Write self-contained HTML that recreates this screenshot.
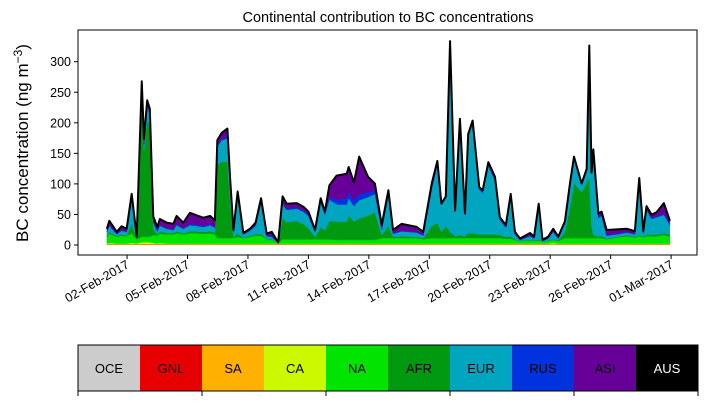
<!DOCTYPE html>
<html><head><meta charset="utf-8">
<style>
html,body{margin:0;padding:0;background:#fff;}
svg{display:block;font-family:"Liberation Sans","DejaVu Sans",sans-serif;}
</style></head>
<body>
<svg id="chart" width="707" height="402" viewBox="0 0 707 402">
<text x="388" y="22" text-anchor="middle" font-size="14.5">Continental contribution to BC concentrations</text>
<text transform="translate(28,143) rotate(-90)" text-anchor="middle" font-size="17">BC concentration (ng m<tspan dy="-6" font-size="12">−3</tspan><tspan dy="6">)</tspan></text>
<g id="plot"></g>
<g id="legend"></g>
</svg>
<script>
const times=[0,0.12,0.49,0.73,0.98,1.23,1.48,1.73,1.84,2.0,2.13,2.3,2.5,2.63,2.97,3.3,3.46,3.79,4.12,4.45,4.78,5.12,5.36,5.48,5.7,5.98,6.11,6.28,6.49,6.77,7.1,7.38,7.65,7.93,8.18,8.5,8.72,8.92,9.42,9.75,10.0,10.33,10.61,10.82,11.04,11.4,11.9,12.0,12.26,12.52,12.96,13.3,13.64,13.97,14.2,14.63,15.37,15.7,16.12,16.4,16.6,16.82,17.03,17.28,17.52,17.77,17.93,18.15,18.48,18.65,18.93,19.26,19.5,19.8,20.04,20.25,20.5,21.0,21.2,21.43,21.62,21.9,22.15,22.4,22.73,22.98,23.18,23.56,23.81,23.94,24.05,24.14,24.39,24.55,24.8,25.3,25.8,26.2,26.42,26.62,26.78,27.03,27.28,27.64,27.94];
const oce=[0.5,0.5,0.5,0.5,0.5,0.5,0.5,0.5,0.5,0.5,0.5,0.5,0.5,0.5,0.5,0.5,0.5,0.5,0.5,0.5,0.5,0.5,0.5,0.5,0.5,0.5,0.5,0.5,0.5,0.5,0.5,0.5,0.5,0.5,0.5,0.5,0.5,0.5,0.5,0.5,0.5,0.5,0.5,0.5,0.5,0.5,0.5,0.5,0.5,0.5,0.5,0.5,0.5,0.5,0.5,0.5,0.5,0.5,0.5,0.5,0.5,0.5,0.5,0.5,0.5,0.5,0.5,0.5,0.5,0.5,0.5,0.5,0.5,0.5,0.5,0.5,0.5,0.5,0.5,0.5,0.5,0.5,0.5,0.5,0.5,0.5,0.5,0.5,0.5,0.5,0.5,0.5,0.5,0.5,0.5,0.5,0.5,0.5,0.5,0.5,0.5,0.5,0.5,0.5,0.5];
const gnl=[0.3,0.3,0.3,0.3,0.3,0.3,0.3,0.3,0.3,0.3,0.3,0.3,0.3,0.3,0.3,0.3,0.3,0.3,0.3,0.3,0.3,0.3,0.3,0.3,0.3,0.3,0.3,0.3,0.3,0.3,0.3,0.3,0.3,0.3,0.3,0.3,0.3,0.3,0.3,0.3,0.3,0.3,0.3,0.3,0.3,0.3,0.3,0.3,0.3,0.3,0.3,0.3,0.3,0.3,0.3,0.3,0.3,0.3,0.3,0.3,0.3,0.3,0.3,0.3,0.3,0.3,0.3,0.3,0.3,0.3,0.3,0.3,0.3,0.3,0.3,0.3,0.3,0.3,0.3,0.3,0.3,0.3,0.3,0.3,0.3,0.3,0.3,0.3,0.3,0.3,0.3,0.3,0.3,0.3,0.3,0.3,0.3,0.3,0.3,0.3,0.3,0.3,0.3,0.3,0.3];
const sa=[0.5,0.5,0.5,0.5,0.5,0.5,0.5,0.8,0.8,0.8,0.8,0.5,0.5,0.5,0.5,0.5,0.5,0.5,0.5,0.5,0.5,0.5,0.5,0.5,0.5,0.5,0.5,0.5,0.5,0.5,0.5,0.5,0.5,0.5,0.5,0.5,0.5,0.5,0.5,0.5,0.5,0.5,0.5,0.5,0.5,0.5,0.5,0.5,0.5,0.5,0.5,0.5,0.5,0.5,0.5,0.5,0.5,0.5,0.5,0.5,0.5,0.5,0.5,0.5,0.5,0.5,0.5,0.5,0.5,0.5,0.5,0.5,0.5,0.5,0.5,0.5,0.5,0.5,0.5,0.5,0.5,0.5,0.5,0.5,0.5,0.5,0.5,0.5,0.5,0.5,0.5,0.5,0.5,0.5,0.5,0.5,0.5,0.5,0.5,0.5,0.5,0.5,0.5,0.5,0.5];
const ca=[1,2,1,1,1,2,1,3,3,3,3,2,1,2,1,1,1,1,1,1,1,1,1,1,1,1,1,1,1,1,1,1,1,1,1,1,1,1,1,1,1,1,1,1,1,1,1,1,1,1,1,1,1,1,1,1,1,1,1,1,1,1,1,1,1,1,1,1,1,1,1,1,1,1,1,1,1,1,1,1,1,1,2,1,1,1,1,1,1,1,1,1,1,1,1,1,1,1,1,1,1,1,1,1,1];
const na=[11,15,11,13,12,16,7,9,9,9,9,13,13,15,15,15,17,15,17,17,16,17,15,9,9,9,9,9,11,9,11,13,13,7,6,1,7,7,7,7,7,7,7,7,7,6,6,6,6,6,6,6,9,9,9,9,9,7,9,9,9,9,9,9,9,9,9,9,9,9,9,9,9,8,8,6,4,5,4,5,3,4,5,4,9,9,9,9,9,9,9,9,9,9,7,10,12,10,12,10,12,12,12,14,12];
const afr=[2,3,1,2,2,15,1,230,140,190,180,10,2,3,3,2,3,2,3,3,3,3,3,120,125,125,60,2,5,1,2,2,3,1,1,0,35,28,30,25,18,4,20,15,30,30,30,40,30,35,40,45,5,20,2,3,2,2,20,25,10,20,10,3,5,3,8,8,6,6,6,6,5,3,4,1,0,1,1,2,0,1,1,1,10,50,90,75,90,100,20,5,3,3,1,1,2,1,3,1,3,3,3,3,3];
const eur=[6,10,3,6,5,40,1,10,10,25,20,10,5,10,6,5,10,7,10,9,8,10,8,30,35,38,30,8,60,5,8,14,50,4,4,0,22,20,20,20,20,8,40,25,35,28,28,28,25,30,30,30,8,50,5,8,7,4,60,95,45,45,300,40,185,35,158,180,73,68,112,88,25,15,65,8,2,6,3,55,1,3,12,3,15,37,42,13,21,210,85,136,30,33,5,4,4,4,85,5,40,25,28,30,15];
const rus=[1,1,1,1,1,3,0,2,2,2,2,2,1,2,1,1,2,1,2,2,2,2,1,2,2,3,2,1,3,0,1,1,2,1,1,0,2,2,2,2,2,1,2,2,5,8,10,10,9,10,8,5,2,3,1,1,1,1,2,2,1,1,3,1,2,1,2,2,2,2,2,2,1,1,2,1,0,1,1,1,0,1,1,1,1,1,1,1,2,3,2,2,2,2,1,1,1,1,2,1,2,2,2,2,2];
const asi=[4,7,3,6,4,6,2,12,8,6,7,8,6,9,9,9,13,9,18,15,13,13,11,8,10,13,8,2,6,2,2,4,6,3,7,0.5,11,8,7,6,5,2,5,3,18,39,40,41,30,61,25,12,6,5,5,11,8,5,7,4,0,2,9,1,3,1,2,2,2,2,4,4,3,3,2,3,2,4,2,2,2,2,4,2,1,1,0,0,0,2,0,2,5,5,8,7,5,4,5,3,4,5,6,17,5];
const aus=[0.3,0.3,0.3,0.3,0.3,0.3,0.3,0.3,0.3,0.3,0.3,0.3,0.3,0.3,0.3,0.3,0.3,0.3,0.3,0.3,0.3,0.3,0.3,0.3,0.3,0.3,0.3,0.3,0.3,0.3,0.3,0.3,0.3,0.3,0.3,0.3,0.3,0.3,0.3,0.3,0.3,0.3,0.3,0.3,0.3,0.3,0.3,0.3,0.3,0.3,0.3,0.3,0.3,0.3,0.3,0.3,0.3,0.3,0.3,0.3,0.3,0.3,0.3,0.3,0.3,0.3,0.3,0.3,0.3,0.3,0.3,0.3,0.3,0.3,0.3,0.3,0.3,0.3,0.3,0.3,0.3,0.3,0.3,0.3,0.3,0.3,0.3,0.3,0.3,0.3,0.3,0.3,0.3,0.3,0.3,0.3,0.3,0.3,0.3,0.3,0.3,0.3,0.3,0.3,0.3];
const regionNames=["OCE","GNL","SA","CA","NA","AFR","EUR","RUS","ASI","AUS"];
const regionColors=["#cccccc","#e60000","#ffb000","#ccf900","#00e400","#00990f","#00a6bf","#0033dd","#660099","#000000"];
const yTicks=[0,50,100,150,200,250,300];
const xTickDays=[1,4,7,10,13,16,19,22,25,28];
const xTickLabels=["02-Feb-2017","05-Feb-2017","08-Feb-2017","11-Feb-2017","14-Feb-2017","17-Feb-2017","20-Feb-2017","23-Feb-2017","26-Feb-2017","01-Mar-2017"];

const series=[oce,gnl,sa,ca,na,afr,eur,rus,asi,aus];
const NS="http://www.w3.org/2000/svg";
const L=78,R=697,T=30,B=255;
const x=t=>106.9+t*20.15;
const y=v=>245-v*0.611;
const plot=document.getElementById('plot');
function mk(tag,attrs,parent){const e=document.createElementNS(NS,tag);for(const k in attrs)e.setAttribute(k,attrs[k]);parent.appendChild(e);return e;}

const cum=times.map(()=>0);
series.forEach((s,i)=>{
  const lower=cum.slice();
  times.forEach((t,j)=>{cum[j]+= (s[j]??0);});
  let d="M"+times.map((t,j)=>x(t).toFixed(2)+","+y(cum[j]).toFixed(2)).join("L");
  for(let j=times.length-1;j>=0;j--)d+="L"+x(times[j]).toFixed(2)+","+y(lower[j]).toFixed(2);
  d+="Z";
  const p=mk('path',{d:d,fill:regionColors[i],stroke:regionColors[i],'stroke-width':0.4},plot);
  
  
});
const line=mk('path',{d:"M"+times.map((t,j)=>x(t).toFixed(2)+","+y(cum[j]).toFixed(2)).join("L"),fill:"none",stroke:"#000","stroke-width":2,"stroke-linejoin":"round"},plot);



const fr=mk('rect',{x:L,y:T,width:R-L,height:B-T,fill:"none",stroke:"#000","stroke-width":1},plot);



yTicks.forEach(v=>{
  const tk=mk('line',{x1:L-4,x2:L,y1:y(v),y2:y(v),stroke:"#000","stroke-width":1},plot);
  
  
  const tx=mk('text',{x:L-7,y:y(v)+4.5,"text-anchor":"end","font-size":12.5},plot);
  tx.textContent=v;
  
  
});
xTickDays.forEach((d,i)=>{
  const xx=x(d);
  const tk=mk('line',{x1:xx,x2:xx,y1:B,y2:B+4,stroke:"#000","stroke-width":1},plot);
  
  
  const tx=mk('text',{transform:`translate(${xx+3},${B+12}) rotate(-30)`,"text-anchor":"end","font-size":12.5},plot);
  tx.textContent=xTickLabels[i];
  
  
});

const lg=document.getElementById('legend');
const cw=62,cx0=78,cy0=345,ch=46;
regionNames.forEach((n,i)=>{
  const r=mk('rect',{x:cx0+i*cw,y:cy0,width:cw,height:ch,fill:regionColors[i]},lg);
  
  
  const t=mk('text',{x:cx0+i*cw+cw/2,y:cy0+ch/2+5,"text-anchor":"middle","font-size":13,fill:n==="AUS"?"#fff":"#000"},lg);
  t.textContent=n;
  
  
});
const lf=mk('rect',{x:cx0,y:cy0,width:cw*10,height:ch,fill:"none",stroke:"#000","stroke-width":1},lg);


[0,2,4,6,8,10].forEach(k=>{
  const tk=mk('line',{x1:cx0+k*cw,x2:cx0+k*cw,y1:cy0+ch,y2:cy0+ch+5,stroke:"#000","stroke-width":1},lg);
  
  
});
</script>
</body></html>
